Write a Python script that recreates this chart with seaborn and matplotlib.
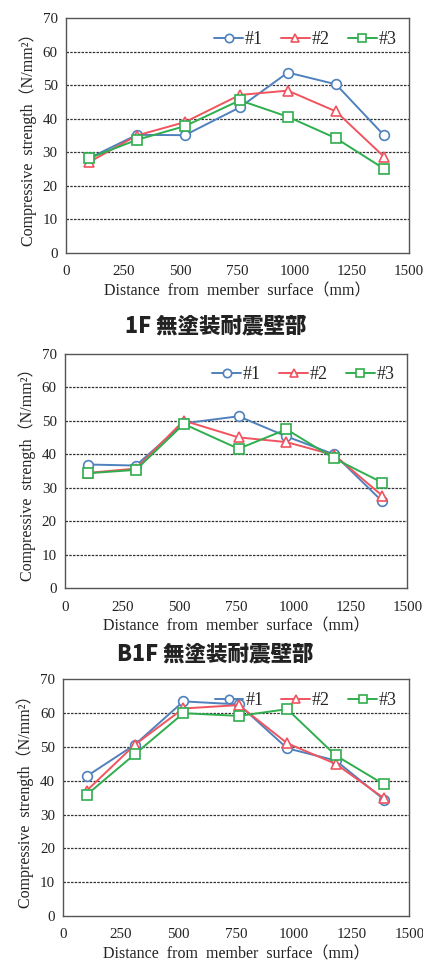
import seaborn as sns
import matplotlib.pyplot as plt
import pandas as pd
from matplotlib.ticker import MultipleLocator

distance = [100, 310, 520, 760, 970, 1180, 1390]
series_names = ["#1", "#2", "#3"]

f1_s1 = [28.2, 35.2, 35.1, 43.4, 53.8, 50.3, 35.1]
f1_s2 = [27.0, 35.0, 39.0, 47.1, 48.4, 42.2, 28.7]
f1_s3 = [28.2, 33.7, 37.8, 45.5, 40.6, 34.2, 25.1]

b1_s1 = [36.9, 36.6, 49.2, 51.3, 45.3, 39.9, 25.9]
b1_s2 = [34.4, 35.7, 50.0, 45.0, 43.6, 39.7, 27.6]
b1_s3 = [34.3, 35.3, 49.0, 41.6, 47.4, 38.7, 31.5]

b1w_s1 = [41.3, 50.7, 63.5, 62.6, 49.6, 46.0, 34.4]
b1w_s2 = [37.0, 50.7, 61.4, 62.4, 51.1, 45.0, 34.8]
b1w_s3 = [35.8, 47.9, 60.0, 59.2, 61.2, 47.5, 38.9]

titles = ["1F 無塗装耐震壁部", "B1F 無塗装耐震壁部"]

colors = ["#4f81bd", "#f0545f", "#2fae4e"]
markers = ["o", "^", "s"]

sns.set_style("white")
plt.rcParams["font.family"] = ["Liberation Serif", "Noto Sans CJK JP"]

fig = plt.figure(figsize=(4.23, 9.61), dpi=100)
positions = [
    [0.156, 0.737, 0.811, 0.244],
    [0.154, 0.388, 0.809, 0.244],
    [0.150, 0.047, 0.818, 0.246],
]

panels = [
    [f1_s1, f1_s2, f1_s3],
    [b1_s1, b1_s2, b1_s3],
    [b1w_s1, b1w_s2, b1w_s3],
]

for pos, vals in zip(positions, panels):
    ax = fig.add_axes(pos)
    rows = []
    for name, v in zip(series_names, vals):
        for d, y in zip(distance, v):
            rows.append({"distance": d, "strength": y, "series": name})
    df = pd.DataFrame(rows)
    sns.lineplot(data=df, x="distance", y="strength", hue="series", style="series",
                 markers=markers, dashes=False, palette=colors, ax=ax, legend=False,
                 markersize=7, markerfacecolor="white", markeredgewidth=1.2,
                 linewidth=1.4)
    for line, c in zip(ax.lines, colors):
        line.set_markeredgecolor(c)

    ax.set_xlim(0, 1500)
    ax.set_ylim(0, 70)
    ax.xaxis.set_major_locator(MultipleLocator(250))
    ax.xaxis.set_minor_locator(MultipleLocator(125))
    ax.yaxis.set_major_locator(MultipleLocator(10))
    ax.yaxis.set_minor_locator(MultipleLocator(5))
    ax.tick_params(which="both", direction="in", length=3, width=0.8, colors="#333333",
                   labelcolor="#222222", labelsize=10.8)
    ax.tick_params(axis="x", which="both", pad=9)
    ax.tick_params(axis="y", which="both", pad=6)
    for yv in range(10, 70, 10):
        ax.axhline(yv, color="#333333", linestyle=(0, (2, 1)), linewidth=0.9, zorder=0)
    for s in ax.spines.values():
        s.set_color("#555555")
        s.set_linewidth(1.0)
    ax.set_xlabel("Distance  from  member  surface（mm）", fontsize=11.5, color="#222222", labelpad=3.5)
    ax.set_ylabel("Compressive  strength（N/mm²）", fontsize=11.5, color="#222222", labelpad=4)
    handles = ax.lines[:3]
    leg = ax.legend(handles, series_names, loc="upper right", ncol=3, frameon=False,
                    fontsize=13, handlelength=1.6, handletextpad=0.1, columnspacing=1.0,
                    borderaxespad=0.3)
    for h in leg.legend_handles:
        h.set_markerfacecolor("white")
        h.set_markersize(6)

fig.text(0.51, 0.661, titles[0], ha="center", va="center", fontsize=15.5, fontweight="heavy",
         family=["Noto Sans CJK JP"], color="#222222")
fig.text(0.51, 0.319, titles[1], ha="center", va="center", fontsize=15.5, fontweight="heavy",
         family=["Noto Sans CJK JP"], color="#222222")

fig.savefig("out.png", dpi=100)
